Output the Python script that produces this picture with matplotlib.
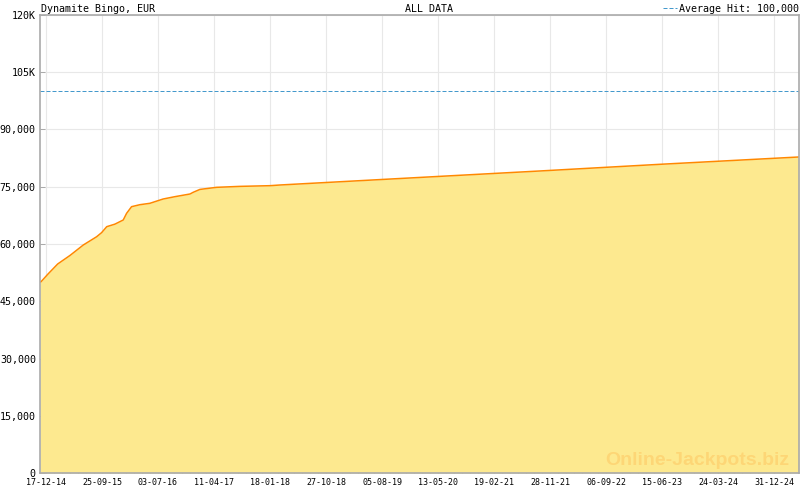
import numpy as np
import pandas as pd
import matplotlib
matplotlib.use("Agg")
import matplotlib.pyplot as plt
import matplotlib.dates as mdates
from matplotlib.ticker import FixedLocator

# jackpot history
dates = [
    "2014-11-17", "2014-11-22", "2014-12-26", "2015-02-14", "2015-04-17",
    "2015-06-23", "2015-08-29", "2015-09-23", "2015-10-19", "2015-11-29",
    "2016-01-10", "2016-01-27", "2016-02-21", "2016-04-03", "2016-05-23",
    "2016-07-29", "2016-09-26", "2016-12-11", "2016-12-27", "2017-01-30",
    "2017-04-24", "2017-08-20", "2018-01-18", "2018-03-09", "2019-11-03",
    "2021-10-07", "2023-06-04", "2025-05-04",
]
values = [
    50000, 50100, 52060, 54760, 57000,
    59740, 61900, 62970, 64540, 65200,
    66290, 68040, 69780, 70300, 70660,
    71790, 72400, 73100, 73540, 74300,
    74850, 75100, 75280, 75460, 77160,
    79130, 80880, 82800,
]
average_hit = 100000

x_tick_labels = [
    "17-12-14", "25-09-15", "03-07-16", "11-04-17", "18-01-18", "27-10-18",
    "05-08-19", "13-05-20", "19-02-21", "28-11-21", "06-09-22", "15-06-23",
    "24-03-24", "31-12-24",
]
y_ticks = [0, 15000, 30000, 45000, 60000, 75000, 90000, 105000, 120000]
y_tick_labels = ["0", "15,000", "30,000", "45,000", "60,000", "75,000",
                 "90,000", "105K", "120K"]

title_left = "Dynamite Bingo, EUR"
title_mid = "ALL DATA"
legend_text = "Average Hit: 100,000"
watermark = "Online-Jackpots.biz"

FILL = "#fde98f"
LINE = "#ff8800"
DASH = "#4499cc"
GRID = "#e8e8e8"
AXIS = "#aaaaaa"
MONO = "DejaVu Sans Mono"

x = pd.to_datetime(dates)
major = pd.to_datetime(x_tick_labels, format="%d-%m-%y")
major_num = mdates.date2num(major)
# six minor ticks between each pair of majors
step = (major_num[1] - major_num[0]) / 7
minor_num = np.arange(major_num[0] - 7 * step, mdates.date2num(x[-1]) + step, step)

fig = plt.figure(figsize=(8, 4.9), dpi=100)
ax = fig.add_axes([40 / 800, 17 / 490, 759 / 800, 458 / 490])

ax.fill_between(x, values, 0, color=FILL, lw=0, zorder=2)
ax.plot(x, values, color=LINE, lw=1.1, zorder=3)
hl = ax.axhline(average_hit, color=DASH, lw=0.72, zorder=3)
hl.set_dashes((4, 2))

ax.set_xlim(x[0], x[-1])
ax.set_ylim(0, 120000)

ax.xaxis.set_major_locator(FixedLocator(major_num))
ax.xaxis.set_minor_locator(FixedLocator(minor_num))
ax.set_xticklabels(x_tick_labels, fontfamily=MONO, fontsize=6)
ax.set_yticks(y_ticks)
ax.set_yticklabels(y_tick_labels, fontfamily=MONO, fontsize=7.2)

ax.tick_params(axis="x", which="major", direction="in", length=4, width=0.7,
               color=AXIS, pad=3.5)
ax.tick_params(axis="x", which="minor", direction="in", length=2.2, width=0.7,
               color=AXIS)
ax.tick_params(axis="y", direction="in", length=3.6, width=0.7, color=AXIS, pad=3)

ax.grid(True, which="major", color=GRID, lw=0.8)
ax.set_axisbelow(True)
for s in ax.spines.values():
    s.set_color(AXIS)
    s.set_linewidth(1.2)
    s.set_zorder(4)

fig.text(41 / 800, 1 - 12 / 490, title_left, fontfamily=MONO, fontsize=7.2,
         va="baseline", ha="left")
fig.text(405 / 800, 1 - 12 / 490, title_mid, fontfamily=MONO, fontsize=7.2,
         va="baseline", ha="left")
fig.text(799 / 800, 1 - 12 / 490, legend_text, fontfamily=MONO, fontsize=7.2,
         va="baseline", ha="right")
fig.lines.append(plt.Line2D([663 / 800, 677 / 800], [1 - 8 / 490, 1 - 8 / 490],
                            transform=fig.transFigure, color=DASH, lw=0.72,
                            dashes=(4, 2)))

ax.text(0.9868, 0.0175, watermark, transform=ax.transAxes, ha="right",
        va="baseline", fontfamily="Liberation Sans", fontweight="bold",
        fontsize=14, color="#fdd676", zorder=3)

fig.savefig("out.png", dpi=100)
